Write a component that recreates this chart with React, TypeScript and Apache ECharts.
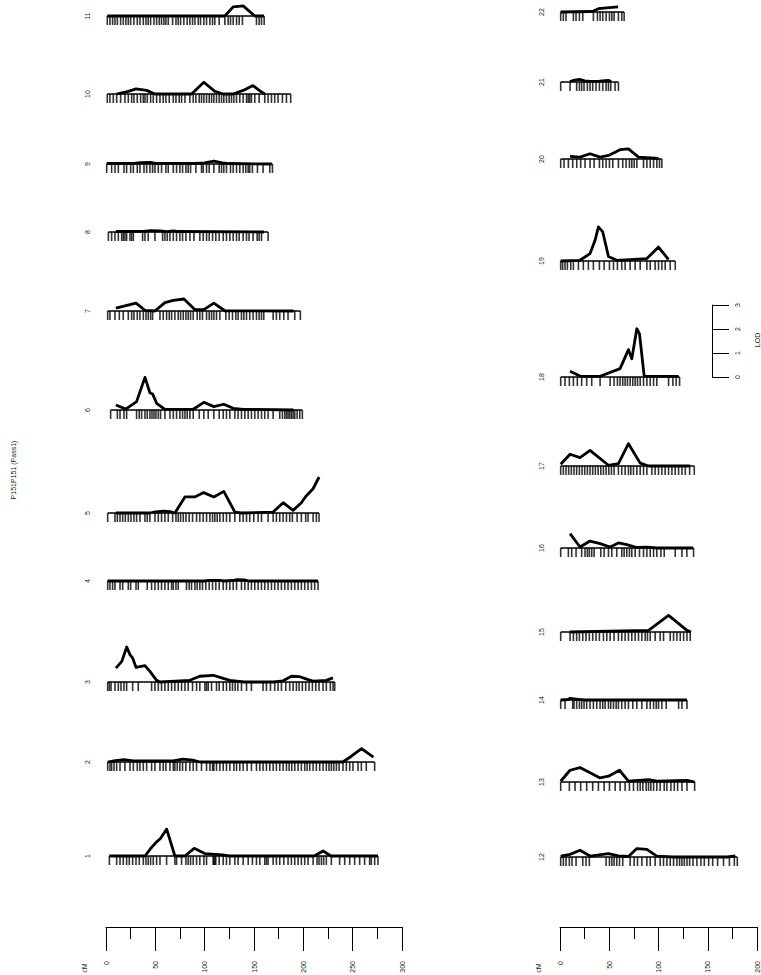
import React, { useEffect, useRef } from 'react';
import * as echarts from 'echarts';

// ---- marker positions (cM) ----
const chr1Markers = [3.4, 10.8, 14.2, 17.5, 20.9, 23.6, 27, 30.4, 33.7, 37.8, 40.5, 42.8, 45.2, 47.9, 51.3, 54.7, 61.4, 69.8, 71.5, 76.6, 81, 83.3, 85.7, 88.4, 91.8, 95.1, 99.2, 101.9, 108.6, 109.3, 110.3, 111.3, 114.7, 118.8, 122.1, 125.5, 130.6, 133.9, 139, 144.1, 148.4, 152.5, 155.9, 160.9, 162.6, 164.3, 169.4, 172.7, 176.1, 180.2, 184.5, 187.9, 191.3, 194.7, 198, 201.4, 204.8, 209.9, 213.9, 215.9, 218.3, 220.6, 223.3, 228.4, 236.8, 241.9, 247, 252, 257.1, 262.1, 267.2, 268.9, 272.3, 275.6];
const chr2Markers = [1.7, 4, 5.7, 8.1, 10.8, 14.2, 19.2, 24.3, 27.7, 31.7, 34.4, 37.8, 41.2, 46.2, 49.6, 54.7, 58, 60.7, 64.8, 68.2, 69.8, 72.2, 74.9, 77.6, 81, 85, 88.4, 91.8, 96.8, 101.9, 105.3, 108, 109.3, 112, 115.4, 118.8, 122.1, 125.5, 129.6, 132.3, 135.6, 139, 143, 147.4, 152.5, 155.9, 159.2, 162.6, 166, 169.4, 172.7, 176.1, 179.5, 182.9, 185.6, 188.3, 191.3, 194.7, 198, 201.4, 203.8, 206.5, 209.9, 213.2, 216.6, 220, 223.3, 226, 228.4, 230.8, 233.5, 236.2, 240.2, 243.6, 247, 250.3, 255.4, 258.8, 263.8, 272.3];
const chr3Markers = [1.7, 3.4, 5.1, 9.1, 12.5, 15.2, 18.2, 20.9, 27, 32.7, 46.2, 49.6, 53, 56.3, 59.7, 63.1, 66.5, 69.8, 73.2, 76.6, 80, 83.3, 87.7, 91.8, 95.1, 100.2, 101.9, 103.6, 107, 112, 114.7, 118.8, 122.1, 125.5, 128.2, 130.9, 133.6, 137.3, 142.4, 147.4, 159.2, 162.6, 166.7, 171, 174.4, 177.8, 182.2, 186.2, 189.6, 193, 195.7, 199, 202.4, 205.8, 209.2, 212.6, 215.9, 220, 223.3, 227.4, 230.1, 231.8];
const chr4Markers = [1.7, 4, 6.7, 9.1, 14.2, 16.9, 22.6, 25, 30.4, 32.7, 41.8, 46.2, 49.6, 53, 56.3, 59.7, 63.1, 66.5, 68.2, 70.9, 73.2, 81.6, 84.3, 86.7, 90.1, 92.4, 95.1, 97.8, 101.2, 104.6, 108, 111.3, 114.7, 118.8, 122.1, 125.5, 128.9, 132.3, 137.3, 140.7, 144.1, 147.4, 150.8, 154.2, 157.6, 160.9, 164.3, 167.7, 171, 174.4, 177.8, 181.2, 184.5, 187.9, 191.3, 194.7, 198, 201.4, 204.8, 208.2, 211.5, 214.9];
const chr5Markers = [1.7, 9.1, 11.5, 14.2, 16.9, 19.6, 22.6, 25.3, 28.3, 31, 34.4, 39.5, 41.8, 44.5, 49.6, 53, 56.3, 59.7, 63.1, 67.5, 70.9, 73.2, 75.6, 78.3, 81, 84.3, 87.7, 91.8, 95.1, 98.5, 101.9, 105.3, 108, 110.3, 112.7, 115.4, 118.8, 122.1, 125.5, 130.6, 135.6, 139, 142.4, 145.7, 149.8, 154.2, 157.6, 164.3, 169.4, 172.7, 176.1, 179.5, 182.9, 186.2, 188.9, 193.7, 198, 202.4, 204.8, 209.9, 213.2, 215.9];
const chr6Markers = [4.7, 11.5, 14.2, 18.2, 20.9, 31, 33.7, 36.1, 39.5, 41.8, 44.5, 46.6, 48.6, 50.6, 53, 55.3, 59.7, 64.8, 68.2, 71.5, 74.9, 77.6, 80, 82.3, 85, 88.4, 94.5, 99.2, 103.6, 109.3, 114.7, 118.8, 122.1, 125.5, 130.6, 133.9, 137.3, 140.7, 144.1, 147.4, 150.8, 154.2, 157.6, 160.9, 164.3, 169.4, 176.1, 178.8, 181.2, 182.9, 184.5, 186.2, 187.9, 189.6, 191.3, 193.7, 196.4, 199];
const chr7Markers = [1.7, 4, 9.1, 13.5, 17.5, 22.6, 26, 28.3, 31.7, 34.4, 37.8, 40.5, 42.8, 45.2, 47.2, 54.7, 58, 61.4, 64.1, 66.5, 69.8, 73.2, 75.6, 78.3, 81, 83.3, 85.7, 88.4, 92.4, 95.1, 97.8, 101.9, 104.6, 107, 109.3, 112, 115.4, 121.5, 124.8, 128.2, 131.6, 133.9, 137.3, 139.7, 142.4, 145.7, 149.1, 152.5, 155.2, 157.6, 159.9, 169.4, 172.7, 176.1, 180.2, 184.5, 191.3, 197];
const chr8Markers = [2.4, 5.7, 9.1, 12.5, 15.9, 17.5, 19.2, 20.9, 24.3, 26, 27.7, 37.1, 39.5, 42.8, 49.6, 57.4, 59.7, 62.1, 64.8, 68.2, 71.5, 74.9, 77.6, 81, 85, 89.1, 95.1, 98.5, 101.9, 104.6, 108, 111.3, 114.7, 118.8, 122.1, 125.5, 128.9, 132.3, 135, 139, 142.4, 145, 149.1, 153.2, 155.2, 157.6, 164.3];
const chr9Markers = [0.7, 5.7, 9.1, 12.5, 18.2, 20.9, 25, 27.7, 31.7, 34.4, 38.5, 41.2, 44.5, 47.2, 49.6, 53, 56.3, 60.7, 63.1, 68.2, 71.5, 74.9, 77.6, 81, 83.3, 85.7, 91.1, 96.8, 98.5, 101.9, 104.6, 109.3, 114.7, 117.1, 119.4, 122.1, 126.2, 128.9, 132.3, 135.6, 139, 141.7, 144.1, 145.7, 148.4, 153.5, 159.2, 166, 168.7];
const chr10Markers = [1.3, 4, 7.4, 10.8, 14.8, 19.2, 22.6, 26, 28.3, 31.7, 35.1, 37.8, 39.5, 41.8, 45.2, 47.9, 51.3, 54.7, 58, 60.7, 64.1, 68.2, 70.9, 74.2, 76.6, 80, 85, 88.4, 91.1, 94.5, 96.8, 99.2, 101.9, 104.6, 107, 109.3, 112, 114.7, 117.1, 119.4, 122.1, 124.8, 127.2, 129.6, 132.3, 135.6, 139, 142.4, 144.1, 145.7, 147.4, 150.8, 155.2, 160.9, 164.3, 167.7, 171, 174.4, 178.8, 182.9, 187.2];
const chr11Markers = [1.3, 4, 6.7, 9.1, 11.5, 14.8, 17.5, 20.2, 22.6, 25, 28.3, 31.7, 34.4, 37.8, 40.5, 42.8, 45.2, 48.6, 51.3, 54, 56.3, 58.7, 60.7, 63.1, 67.5, 70.9, 73.2, 75.6, 78.9, 82.3, 85, 87.7, 90.1, 93.5, 95.8, 99.2, 101.9, 105.3, 108, 110.3, 114.7, 120.4, 123.8, 126.2, 128.9, 132.3, 135, 138.3, 152.5, 155.2, 157.6, 160.3];
const chr12Markers = [0.7, 3.4, 6.1, 9.5, 12.2, 16.3, 23.1, 26.4, 29.8, 46.8, 50.2, 52.6, 54.9, 57.6, 60.4, 63.7, 71.2, 75.3, 78.7, 83.1, 88.2, 91.6, 96.6, 101.7, 105.1, 108.5, 111.9, 115.3, 118.7, 121.4, 123.8, 126.2, 128.9, 131.6, 135, 139, 143.1, 146.5, 150.9, 155, 160, 166, 172, 177, 180];
const chr13Markers = [0.7, 9.5, 15.3, 21, 27.1, 33.2, 39, 44.8, 50.2, 56, 61, 66.1, 70.5, 74.6, 78.7, 81.4, 84.1, 87.5, 89.9, 92.2, 95, 98.3, 101.7, 105.8, 108.5, 112.6, 116, 119.4, 123.8, 128.9, 136.7];
const chr14Markers = [0.7, 5.1, 12.9, 14.2, 16.9, 19.7, 22, 24.4, 27.1, 30.5, 33.9, 37.3, 40.7, 43.4, 45.8, 49.2, 51.5, 54.3, 57, 59.3, 62.7, 66.1, 69.5, 73.9, 78, 83.1, 88.2, 91.6, 95, 97.7, 100, 103.4, 107.8, 120.4, 123.8, 128.9];
const chr15Markers = [0.7, 10.2, 13.6, 16.9, 19.7, 23.1, 26.4, 29.8, 33.2, 36.6, 40, 44.1, 47.5, 50.9, 54.9, 59.3, 62.7, 66.1, 69.5, 72.9, 76.3, 79.7, 83.1, 86.5, 88.8, 91.6, 96.6, 101.7, 105.1, 111.9, 115.3, 118.7, 122.1, 125.5, 128.9, 132.2];
const chr16Markers = [0.7, 8.5, 11.9, 16.3, 22, 25.4, 27.8, 29.8, 32.2, 34.6, 41.4, 44.8, 49.2, 52.6, 57.6, 62.7, 65.1, 67.8, 70.5, 72.9, 76.3, 80.7, 84.8, 88.2, 91.6, 95, 98.3, 102.4, 105.8, 117, 123.8, 128.8, 135.6];
const chr17Markers = [0.7, 3.4, 6.1, 8.8, 11.5, 14.2, 16.9, 19.7, 22.4, 25.1, 27.8, 30.5, 33.2, 35.9, 38.7, 41.4, 44.1, 46.8, 49.5, 52.2, 54.9, 59.3, 62.7, 66.1, 69.5, 71.9, 74.6, 78, 81.4, 84.8, 88.2, 93.3, 96.6, 100, 103.4, 106.8, 110.2, 113.6, 117, 120.4, 123.8, 127.2, 131.6, 136.3];
const chr18Markers = [0.7, 5.1, 9.5, 13.6, 17.6, 22, 27.1, 32.2, 40.7, 50.9, 54.9, 58.3, 61, 63.7, 66.1, 68.5, 71.2, 73.9, 76.3, 78.7, 81.4, 84.8, 88.2, 91.6, 95, 98.3, 110.2, 114.6, 118, 121.4];
const chr19Markers = [0.7, 2.7, 5.1, 7.5, 10.9, 13.6, 18.7, 23.7, 28.8, 33.9, 40, 44.8, 50.2, 54.3, 58.3, 62.7, 66.1, 71.2, 76.3, 81.4, 88.2, 91.6, 96.6, 100, 103.4, 106.8, 111.9, 117];
const chr20Markers = [0.7, 4.1, 8.5, 12.9, 17, 21, 25.4, 30.5, 34.6, 40, 43.4, 46.8, 50.2, 53.6, 59.3, 63.7, 67.1, 70.5, 72.9, 75.3, 78, 84.8, 88.2, 91.6, 95, 98.3, 101, 103.4];
const chr21Markers = [0.7, 10.2, 16.9, 19.7, 22, 24.4, 27.8, 30.5, 33.2, 36.6, 40, 43.4, 46.8, 49.2, 51.5, 55.9, 59.3];
const chr22Markers = [0.7, 3.4, 6.1, 13.6, 16.3, 19.7, 23.1, 33.9, 38, 40.7, 43.4, 46.8, 50.2, 52.6, 54.9, 59.3, 62.7, 65.1];

// ---- LOD profiles [cM, LOD] ----
const chr1Lod = [[3.4, 0], [39.5, 0], [45, 0.3], [51, 0.58], [55, 0.72], [61.5, 1.12], [69.8, 0], [80, 0], [89.4, 0.32], [100, 0.1], [118, 0.05], [125, 0], [211, 0], [220, 0.21], [228, 0], [275.6, 0]];
const chr2Lod = [[1.7, 0], [8, 0.05], [18, 0.1], [28, 0.05], [68, 0.05], [78, 0.12], [88, 0.08], [95, 0], [240, 0], [248, 0.22], [259, 0.56], [271, 0.2]];
const chr3Lod = [[10, 0.58], [16, 0.86], [21, 1.46], [24.3, 1.14], [27, 1.0], [30.4, 0.61], [39.5, 0.68], [44.5, 0.44], [51.3, 0.07], [54.7, 0], [85, 0.07], [95, 0.24], [108.6, 0.28], [118.8, 0.15], [125.5, 0.07], [140, 0], [170, 0], [179.5, 0.05], [188, 0.24], [196.4, 0.22], [204.8, 0.1], [210, 0.04], [223.3, 0.07], [230, 0.17]];
const chr4Lod = [[1.7, 0], [100, 0], [105, 0.03], [115, 0.03], [120, 0], [128, 0.02], [133, 0.06], [140, 0.05], [145, 0], [214.9, 0]];
const chr5Lod = [[10, 0], [44.5, 0], [50, 0.05], [58, 0.08], [65, 0.06], [69.8, 0], [80, 0.67], [90, 0.67], [99, 0.85], [109.3, 0.67], [119.4, 0.9], [130.6, 0.04], [137.3, 0], [169.4, 0.04], [179.5, 0.43], [189.6, 0.11], [198, 0.43], [202.4, 0.69], [209.9, 1.01], [216, 1.5]];
const chr6Lod = [[10, 0.21], [20, 0.04], [31, 0.35], [39.5, 1.36], [44.5, 0.72], [47.2, 0.67], [51.3, 0.28], [59.7, 0.03], [88.4, 0.03], [99.2, 0.32], [109.3, 0.14], [119.4, 0.24], [128.9, 0.07], [139, 0.03], [190, 0]];
const chr7Lod = [[10, 0.12], [30.4, 0.33], [39.5, 0.03], [49.6, 0], [59.7, 0.35], [68.2, 0.44], [79, 0.5], [90, 0.06], [99.2, 0.06], [109.3, 0.33], [120.4, 0.01], [190, 0]];
const chr8Lod = [[10, 0.02], [38, 0.03], [45, 0.06], [55, 0.05], [62, 0.02], [68, 0.05], [74, 0.02], [160, 0]];
const chr9Lod = [[0.7, 0.02], [28, 0.03], [35, 0.06], [45, 0.07], [50, 0.03], [90, 0.02], [100, 0.05], [109.3, 0.12], [118, 0.05], [125, 0.02], [168, 0]];
const chr10Lod = [[10.8, 0], [22.6, 0.11], [30.4, 0.21], [41.2, 0.15], [49.6, 0], [86.7, 0], [99.2, 0.49], [110.3, 0.11], [118.8, 0], [128.9, 0], [139, 0.15], [149, 0.35], [157.6, 0.08], [161, 0]];
const chr11Lod = [[1.3, 0], [120.4, 0], [128.9, 0.38], [139, 0.42], [150.8, 0], [160, 0]];
const chr12Lod = [[0.7, 0.04], [10.2, 0.11], [20.3, 0.28], [30.5, 0.04], [49.2, 0.14], [59.3, 0.05], [69.5, 0.02], [78, 0.35], [88.2, 0.32], [98.3, 0.04], [115, 0], [170, 0], [178, 0.05]];
const chr13Lod = [[0.7, 0.03], [10.2, 0.49], [20.3, 0.6], [40.7, 0.17], [49.2, 0.24], [60.4, 0.49], [69.5, 0.04], [89.9, 0.1], [98.3, 0.04], [128.9, 0.07], [136.7, 0]];
const chr14Lod = [[0.7, 0], [8, 0.02], [10.2, 0.07], [18.7, 0.03], [25, 0], [128.9, 0]];
const chr15Lod = [[10, 0], [89.9, 0.07], [110.2, 0.69], [128.9, 0.07], [133, 0]];
const chr16Lod = [[10.2, 0.6], [20.3, 0.04], [30.5, 0.29], [40.7, 0.18], [50.9, 0.04], [59.3, 0.21], [67.8, 0.14], [78, 0.02], [88.2, 0.04], [98.3, 0], [135, 0]];
const chr17Lod = [[0.7, 0.07], [10.2, 0.49], [20.3, 0.35], [30.5, 0.65], [49.2, 0.03], [59.3, 0.1], [69.5, 0.93], [81.4, 0.12], [89.9, 0], [132.2, 0]];
const chr18Lod = [[10.2, 0.24], [20.3, 0.04], [40.7, 0.03], [61, 0.35], [69.5, 1.14], [72.9, 0.76], [78, 2.01], [80.7, 1.8], [85.5, 0.03], [120.4, 0.03]];
const chr19Lod = [[0.7, 0], [20.3, 0.03], [30.5, 0.31], [35.6, 0.86], [39, 1.42], [43.4, 1.21], [49.2, 0.19], [57.6, 0.03], [88.2, 0.1], [100, 0.58], [110.2, 0.06]];
const chr20Lod = [[10.2, 0.11], [20.3, 0.08], [30.5, 0.22], [40.7, 0.08], [49.2, 0.15], [61, 0.39], [69.5, 0.42], [79.7, 0.08], [100, 0.03]];
const chr21Lod = [[10, 0.02], [15, 0.08], [20, 0.11], [25, 0.05], [31, 0.03], [40, 0.04], [49, 0.07], [52, 0.02]];
const chr22Lod = [[0.7, 0], [30, 0.02], [34, 0.04], [39, 0.14], [50, 0.18], [59, 0.21]];

const chrNames = ['1', '2', '3', '4', '5', '6', '7', '8', '9', '10', '11', '12', '13', '14', '15', '16', '17', '18', '19', '20', '21', '22'];
const allMarkers = [chr1Markers, chr2Markers, chr3Markers, chr4Markers, chr5Markers, chr6Markers, chr7Markers, chr8Markers, chr9Markers, chr10Markers, chr11Markers, chr12Markers, chr13Markers, chr14Markers, chr15Markers, chr16Markers, chr17Markers, chr18Markers, chr19Markers, chr20Markers, chr21Markers, chr22Markers];
const allLod = [chr1Lod, chr2Lod, chr3Lod, chr4Lod, chr5Lod, chr6Lod, chr7Lod, chr8Lod, chr9Lod, chr10Lod, chr11Lod, chr12Lod, chr13Lod, chr14Lod, chr15Lod, chr16Lod, chr17Lod, chr18Lod, chr19Lod, chr20Lod, chr21Lod, chr22Lod];

const leftScaleTicks = [0, 300];
const rightScaleTicks = [0, 200];
const lodTicks = [0, 3];
const titleText = 'P151P151 (Pass1)';

// ---- layout (pixels) ----
const LEFT_BASE = [856, 762, 682, 581, 513, 410, 311, 232, 164, 94, 16];
const RIGHT_BASE = [857, 782, 700, 632, 548, 466, 377, 261, 159, 82, 12];
const LOD_PX = 24;
const FONT = '"Liberation Sans", Arial, sans-serif';
const TXT = '#222';

function txt(text: string, x: number, y: number) {
  return {
    type: 'text', x, y, rotation: Math.PI / 2, silent: true,
    style: { text, fontSize: 7, fontFamily: FONT, fill: TXT, align: 'center', verticalAlign: 'middle', textAlign: 'center', textVerticalAlign: 'middle' },
  };
}

export default function App() {
  const ref = useRef<HTMLDivElement>(null);
  useEffect(() => {
    const chart = echarts.init(ref.current!, null, { renderer: 'svg' });
    const grid: any[] = [];
    const xAxis: any[] = [];
    const yAxis: any[] = [];
    const series: any[] = [];
    const graphic: any[] = [];
    chrNames.forEach((name, i) => {
      const isLeft = i < 11;
      const base = isLeft ? LEFT_BASE[i] : RIGHT_BASE[i - 11];
      const h = Math.min(3 * LOD_PX, base);
      grid.push({ left: isLeft ? 106 : 560, width: isLeft ? 296 : 197, top: base - h, height: h, outerBoundsMode: 'none' });
      xAxis.push({ gridIndex: i, type: 'value', min: 0, max: isLeft ? leftScaleTicks[1] : rightScaleTicks[1], show: false });
      yAxis.push({ gridIndex: i, type: 'value', min: 0, max: h / LOD_PX, show: false });
      const m = allMarkers[i];
      series.push({
        type: 'line', xAxisIndex: i, yAxisIndex: i, data: [[m[0], 0], [m[m.length - 1], 0]],
        symbol: 'none', clip: false, silent: true, lineStyle: { color: '#000', width: 1.6 },
      });
      series.push({
        type: 'line', xAxisIndex: i, yAxisIndex: i, data: allLod[i],
        symbol: 'none', clip: false, silent: true, lineStyle: { color: '#000', width: 2.8, join: 'round' },
      });
      series.push({
        type: 'scatter', xAxisIndex: i, yAxisIndex: i, data: m.map((v) => [v, 0]),
        symbol: 'rect', symbolSize: [1.6, 9], symbolOffset: [0, 4.5], clip: false, silent: true,
        itemStyle: { color: '#000' },
      });
      graphic.push(txt(name, isLeft ? 87 : 541, base));
    });

    const scaleAxis = (gi: number, max: number) => ({
      gridIndex: gi, type: 'value', min: 0, max, interval: 50, position: 'bottom',
      axisLine: { show: true, onZero: false, lineStyle: { color: '#000', width: 1 } },
      axisTick: { show: true, length: 24, lineStyle: { color: '#000', width: 1 } },
      minorTick: { show: true, splitNumber: 2, length: 12, lineStyle: { color: '#000', width: 1 } },
      splitLine: { show: false }, minorSplitLine: { show: false },
      axisLabel: { rotate: 90, margin: 34, fontSize: 7, fontFamily: FONT, color: TXT, showMinLabel: true, showMaxLabel: true },
    });
    // left cM scale
    grid.push({ left: 106, width: 296, top: 890, height: 37, outerBoundsMode: 'none' });
    xAxis.push(scaleAxis(22, leftScaleTicks[1]));
    yAxis.push({ gridIndex: 22, type: 'value', min: 0, max: 1, show: false });
    // right cM scale
    grid.push({ left: 560, width: 197, top: 890, height: 37, outerBoundsMode: 'none' });
    xAxis.push(scaleAxis(23, rightScaleTicks[1]));
    yAxis.push({ gridIndex: 23, type: 'value', min: 0, max: 1, show: false });
    // LOD legend axis
    grid.push({ left: 640, width: 72, top: 377 - 3 * LOD_PX, height: 3 * LOD_PX, outerBoundsMode: 'none' });
    xAxis.push({ gridIndex: 24, type: 'value', min: 0, max: 1, show: false });
    yAxis.push({
      gridIndex: 24, type: 'value', min: lodTicks[0], max: lodTicks[1], interval: 1, position: 'right',
      axisLine: { show: true, onZero: false, lineStyle: { color: '#000', width: 1 } },
      axisTick: { show: true, length: 17, lineStyle: { color: '#000', width: 1 } },
      splitLine: { show: false },
      axisLabel: { rotate: 90, margin: 22, fontSize: 7, fontFamily: FONT, color: TXT },
    });

    graphic.push(txt(titleText, 13, 470));
    graphic.push(txt('cM', 84, 968));
    graphic.push(txt('cM', 538, 968));
    graphic.push(txt('LOD', 757, 340));

    chart.setOption({
      animation: false,
      backgroundColor: '#fff',
      grid, xAxis, yAxis, series, graphic,
    });
    return () => chart.dispose();
  }, []);
  return <div ref={ref} style={{ position: 'fixed', left: 0, top: 0, width: 761, height: 975 }} />;
}
